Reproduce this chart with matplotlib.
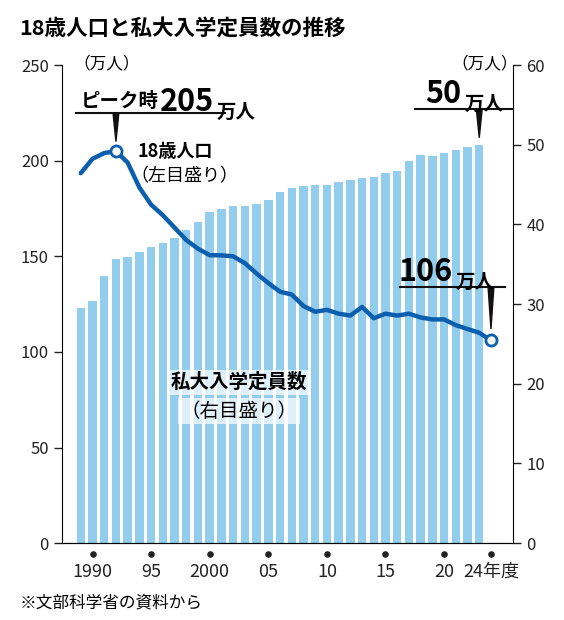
import matplotlib.pyplot as plt
import matplotlib.transforms as mtransforms

plt.rcParams["font.family"] = ["Noto Sans CJK JP", "DejaVu Sans"]

# --------------------------------------------------
# DATA
# --------------------------------------------------
bar_years = list(range(1989, 2024))
capacity = [29.5, 30.4, 33.5, 35.6, 35.9, 36.6, 37.2, 37.7, 38.3, 39.3,
            40.3, 41.6, 41.9, 42.3, 42.3, 42.6, 43.1, 44.1, 44.6, 44.8,
            44.9, 45.0, 45.3, 45.6, 45.8, 46.0, 46.4, 46.7, 48.0, 48.7,
            48.6, 49.0, 49.4, 49.7, 50.0]

line_years = list(range(1989, 2025))
population = [193.5, 201, 204, 205, 199, 186, 177, 171.5, 165, 158.5,
              154, 150.6, 150.5, 150, 146.4, 141, 136, 131.5, 130, 124,
              121, 122, 120, 119, 123.5, 117.6, 120, 119, 120, 118,
              117, 117, 114, 112, 110, 106]

tick_years = [1990, 1995, 2000, 2005, 2010, 2015, 2020, 2024]
tick_labels = ["1990", "95", "2000", "05", "10", "15", "20", "24年度"]

BAR = "#93cdee"
LINE = "#0b5fae"

# --------------------------------------------------
# FIGURE
# --------------------------------------------------
fig = plt.figure(figsize=(5.64, 6.2), dpi=100)
ax = fig.add_axes([0.11, 0.124, 0.80, 0.771])
ax2 = ax.twinx()

ax2.bar(bar_years, capacity, width=0.72, color=BAR, zorder=1)
ax2.set_ylim(0, 60)
ax.set_ylim(0, 250)
ax.set_xlim(1987.4, 2025.9)

ax.set_zorder(ax2.get_zorder() + 1)
ax.patch.set_visible(False)
ax.plot(line_years, population, color=LINE, lw=3.2, solid_capstyle="round", zorder=3)
for yr, val in [(line_years[3], population[3]), (line_years[-1], population[-1])]:
    ax.plot(yr, val, "o", ms=8, mfc="white", mec=LINE, mew=2, zorder=4, clip_on=False)

for a in (ax, ax2):
    a.spines["top"].set_visible(False)
    a.tick_params(labelsize=12, length=6, width=1, colors="#222")
ax.spines["right"].set_visible(False)
ax2.spines["left"].set_visible(False)
ax.set_yticks([0, 50, 100, 150, 200, 250])
ax2.set_yticks([0, 10, 20, 30, 40, 50, 60])

ax.set_xticks(tick_years)
ax.set_xticklabels(tick_labels, fontsize=13)
ax.tick_params(axis="x", length=0, pad=14)
trans = mtransforms.blended_transform_factory(ax.transData, ax.transAxes)
ax.scatter(tick_years, [-0.022] * len(tick_years), s=14, color="#222",
           transform=trans, clip_on=False, zorder=5)

# --------------------------------------------------
# TEXT
# --------------------------------------------------
fig.text(0.035, 0.955, "18歳人口と私大入学定員数の推移", fontsize=15.5,
         fontweight="bold", va="center")
fig.text(0.13, 0.897, "（万人）", fontsize=12, va="center")
fig.text(0.80, 0.897, "（万人）", fontsize=12, va="center")
fig.text(0.035, 0.028, "※文部科学省の資料から", fontsize=12, va="center")

ax.text(1993.8, 200, "18歳人口", fontsize=13, fontweight="bold", va="bottom")
ax.text(1993.2, 192, "（左目盛り）", fontsize=13, va="center")
ax.text(2002.5, 84, "私大入学定員数", fontsize=14, fontweight="bold", ha="center",
        va="center", bbox=dict(fc="white", ec="none", alpha=0.7, pad=2))
ax.text(2002.5, 69, "（右目盛り）", fontsize=14, ha="center", va="center",
        bbox=dict(fc="white", ec="none", alpha=0.7, pad=2))


def callout(x, y, small1, big, small2, x0, x1, tip_x, tip_y):
    """Underlined label with a pointer; pieces chained so they don't overlap."""
    t = ax.text(x, y, small1, fontsize=14, fontweight="bold", va="baseline")
    t = ax.annotate(big, xy=(1, 0), xycoords=t, xytext=(1, 0),
                    textcoords="offset points", fontsize=22,
                    fontweight="bold", va="baseline")
    ax.annotate(small2, xy=(1, 0), xycoords=t, xytext=(2, 0),
                textcoords="offset points", fontsize=14,
                fontweight="bold", va="baseline")
    line_y = y - 3
    ax.plot([x0, x1], [line_y, line_y], color="#111", lw=1.5, clip_on=False)
    ax.fill([tip_x - 0.25, tip_x + 0.25, tip_x], [line_y, line_y, tip_y],
            color="#111", clip_on=False)


callout(1989.0, 228, "ピーク時", "205", "万人", 1988.6, 2001.3, 1992.0, 210)
callout(2018.3, 230, "", "50", "万人", 2017.5, 2025.9, 2023.0, 212)
callout(2016.0, 137, "", "106", "万人", 2016.2, 2025.2, 2024.0, 112)

fig.savefig("out.png", dpi=100)
